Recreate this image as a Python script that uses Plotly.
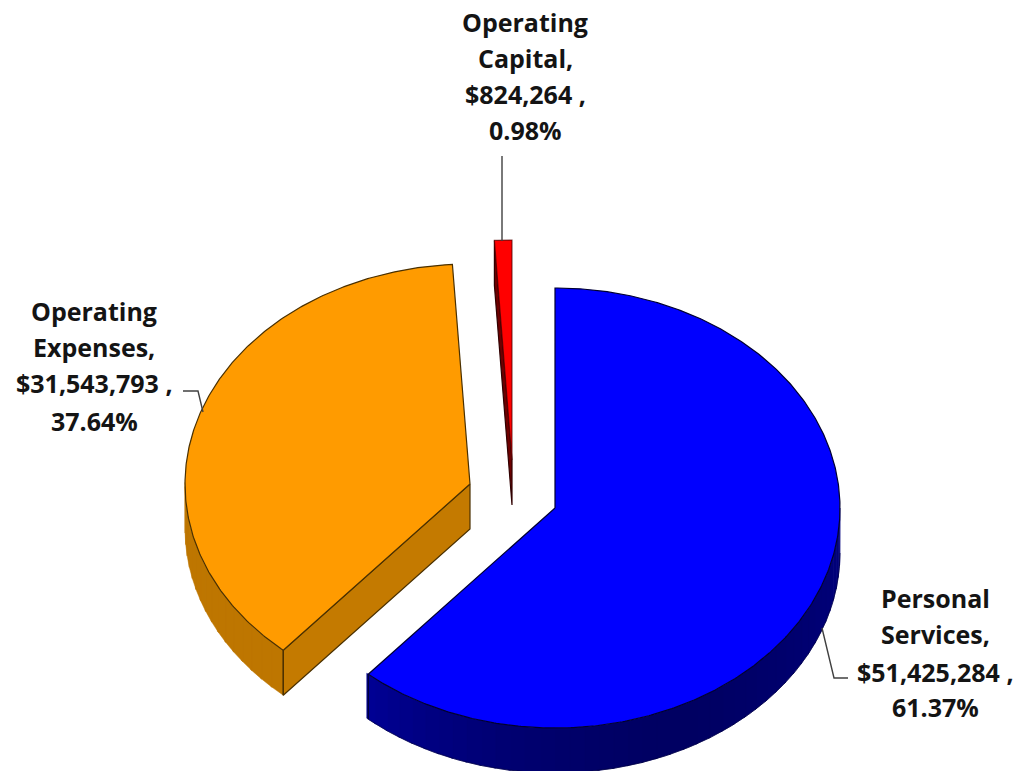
import numpy as np
import plotly.graph_objects as go

# Data
categories = ["Personal Services", "Operating Capital", "Operating Expenses"]
order = ["Personal Services", "Operating Expenses", "Operating Capital"]
amounts = [51425284, 824264, 31543793]
percents = ["61.37%", "0.98%", "37.64%"]
label_lines = {
    "Personal Services": ["Personal", "Services,", "$51,425,284 ,", "61.37%"],
    "Operating Expenses": ["Operating", "Expenses,", "$31,543,793 ,", "37.64%"],
    "Operating Capital": ["Operating", "Capital,", "$824,264 ,", "0.98%"],
}

# Drawing style: projected ellipse and exploded slice apexes in page pixels
A, B, DEPTH = 285, 220, 45
APEX = {"Personal Services": (555, 508), "Operating Expenses": (470, 484), "Operating Capital": (512, 460)}
TOP = {"Personal Services": "#0000FF", "Operating Expenses": "#FF9B00", "Operating Capital": "#FF0000"}
WALL = {"Personal Services": (0, 0, 140), "Operating Expenses": (196, 122, 0), "Operating Capital": (110, 0, 0)}
EDGE = {"Personal Services": "#000030", "Operating Expenses": "#4A3000", "Operating Capital": "#300000"}
LABEL_POS = {
    "Personal Services": (935, [598, 634, 672, 707]),
    "Operating Expenses": (94, [311, 347, 383, 421]),
    "Operating Capital": (525, [22, 58, 94, 130]),
}
LEADERS = {
    "Personal Services": ([822, 834, 848], [628, 678, 678]),
    "Operating Expenses": ([183, 198, 203], [391, 391, 412]),
    "Operating Capital": ([502, 502], [156, 241]),
}

total = sum(amounts)
spans = {}
cursor = 0.0
for name in order:
    frac = amounts[categories.index(name)] / total
    spans[name] = (cursor, cursor + frac * 360)
    cursor += frac * 360


def rim(name, t0, t1, dy=0, n=None):
    n = n or max(2, int(abs(t1 - t0)) * 2 + 2)
    t = np.radians(np.linspace(t0, t1, n))
    cx, cy = APEX[name]
    return cx + A * np.sin(t), cy - B * np.cos(t) + dy


fig = go.Figure()


def poly(xs, ys, fill, line=None, width=1.2):
    fig.add_trace(go.Scatter(
        x=list(xs), y=list(ys), mode="lines", fill="toself", fillcolor=fill,
        line=dict(color=line or fill, width=width if line else 0.5),
        hoverinfo="skip", showlegend=False))


def line(xs, ys, color, width=1.2):
    fig.add_trace(go.Scatter(x=list(xs), y=list(ys), mode="lines",
                             line=dict(color=color, width=width),
                             hoverinfo="skip", showlegend=False))


def curved_wall(name, t0, t1, shade):
    edges = np.arange(t0, t1, 3.0).tolist() + [t1]
    for a, b in zip(edges[:-1], edges[1:]):
        xt, yt = rim(name, a, b + 0.4, n=4)
        xb, yb = rim(name, a, b + 0.4, DEPTH, n=4)
        s = shade((a + b) / 2)
        r, g, bl = WALL[name]
        poly(np.r_[xt, xb[::-1], xt[0]], np.r_[yt, yb[::-1], yt[0]],
             f"rgb({r * s:.0f},{g * s:.0f},{bl * s:.0f})")


# Operating Expenses
n = "Operating Expenses"
t0, t1 = spans[n]
cx, cy = APEX[n]
curved_wall(n, t0, min(t1, 270), lambda t: 0.97)
xc, yc = rim(n, t0, t0, n=2)
poly([cx, xc[0], xc[0], cx, cx], [cy, yc[0], yc[0] + DEPTH, cy + DEPTH, cy], "rgb(196,122,0)", EDGE[n])
line([xc[0], xc[0]], [yc[0], yc[0] + DEPTH], EDGE[n])
xr, yr = rim(n, t0, t1)
poly(np.r_[cx, xr, cx], np.r_[cy, yr, cy], TOP[n], EDGE[n])

# Operating Capital
n = "Operating Capital"
t0, t1 = spans[n]
cx, cy = APEX[n]
xr, yr = rim(n, t0, t1)
poly([xr[0], cx, cx, xr[0], xr[0]], [yr[0], cy, cy + DEPTH, yr[0] + DEPTH, yr[0]],
     "rgb(110,0,0)", EDGE[n])
poly(np.r_[cx, xr, cx], np.r_[cy, yr, cy], TOP[n], "rgba(80,0,0,0.7)")

# Personal Services
n = "Personal Services"
t0, t1 = spans[n]
cx, cy = APEX[n]
curved_wall(n, 90, t1, lambda t: 0.7 + 0.35 * ((t - 150) / 70) ** 2 if t > 150 else 0.7 + 0.2 * ((150 - t) / 60))
xb, yb = rim(n, 90, t1, DEPTH)
line(xb, yb, "#000040", 0.7)
xc, yc = rim(n, t1, t1, n=2)
line([xc[0], xc[0]], [yc[0], yc[0] + DEPTH], EDGE[n])
xr, yr = rim(n, t0, t1)
poly(np.r_[cx, xr, cx], np.r_[cy, yr, cy], TOP[n], EDGE[n])

# Leader lines
for name, (lx, ly) in LEADERS.items():
    line(lx, ly, "#404040", 1.4)

# Labels
annotations = []
for name, lines_ in label_lines.items():
    x, ys = LABEL_POS[name]
    for txt, y in zip(lines_, ys):
        annotations.append(dict(
            x=x, y=y, xref="x", yref="y", text=f"<b>{txt}</b>", showarrow=False,
            xanchor="center", yanchor="middle",
            font=dict(family="Open Sans", size=25, color="#141414")))

fig.update_layout(
    width=1023, height=771, margin=dict(l=0, r=0, t=0, b=0),
    paper_bgcolor="white", plot_bgcolor="white", showlegend=False,
    xaxis=dict(range=[0, 1023], visible=False, fixedrange=True),
    yaxis=dict(range=[771, 0], visible=False, fixedrange=True),
    annotations=annotations,
)
fig.write_html("out.html", config={"displayModeBar": False},
               post_script="document.body.style.margin='0';document.body.style.overflow='hidden';")
